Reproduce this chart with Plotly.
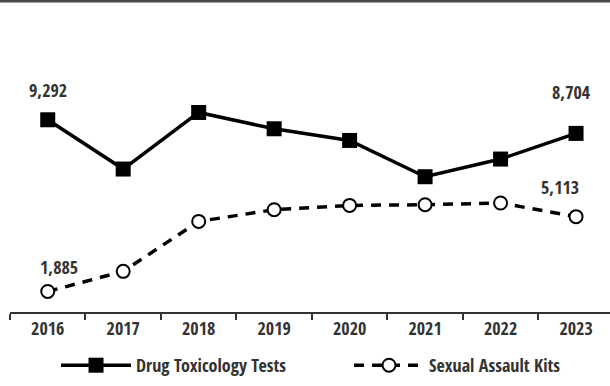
import plotly.graph_objects as go

years = ["2016", "2017", "2018", "2019", "2020", "2021", "2022", "2023"]
drug_tox = [9292, 7167, 9607, 8904, 8400, 6835, 7598, 8704]
sexual_assault = [1885, 2754, 4909, 5413, 5598, 5628, 5702, 5113]

FONT = "Open Sans Condensed"
TXT = "#333333"

fig = go.Figure()
fig.add_trace(go.Scatter(
    x=years, y=drug_tox, name="Drug Toxicology Tests", mode="lines+markers",
    line=dict(color="black", width=3.5),
    marker=dict(symbol="square", size=15, color="black"),
    legendwidth=208,
))
fig.add_trace(go.Scatter(
    x=years, y=sexual_assault, name="Sexual Assault Kits", mode="lines+markers",
    line=dict(color="black", width=3.5, dash="10px,8px"),
    marker=dict(symbol="circle", size=13, color="white", line=dict(color="black", width=2)),
    legendwidth=140,
))

def lab(i, y, xs, ys):
    fig.add_annotation(x=i, y=y, xref="x", yref="y", text=f"{y:,}", showarrow=False,
                       xshift=xs, yshift=ys,
                       font=dict(family=FONT, size=18, color=TXT, weight=500))

last = len(years) - 1
lab(0, drug_tox[0], 0, 30)
lab(last, drug_tox[last], -5, 41)
lab(last, sexual_assault[last], -16, 30)
lab(0, sexual_assault[0], 11, 24)

top_y = (312 - 1.25) / 255
fig.add_shape(type="line", xref="paper", yref="paper", x0=-0.02, x1=1.01,
              y0=top_y, y1=top_y, line=dict(color="#4a4a4a", width=2.5), layer="above")

fig.update_layout(
    width=610, height=386,
    margin=dict(l=10, r=0, t=57, b=74),
    paper_bgcolor="white", plot_bgcolor="white",
    showlegend=True,
    legend=dict(orientation="h", x=0.0767, xanchor="left", y=(312 - 384) / 255, yanchor="bottom",
                font=dict(family=FONT, size=18, color=TXT, weight=500), itemwidth=70,
                entrywidthmode="pixels", traceorder="normal"),
    xaxis=dict(type="category", range=[-0.5, 7.45], showline=True, linecolor="#333333",
               linewidth=1.5, ticks="outside", ticklen=6, tickcolor="#333333", tickwidth=1.5,
               tickson="boundaries", showgrid=False, zeroline=False,
               tickfont=dict(family=FONT, size=18, color=TXT, weight="bold")),
    yaxis=dict(range=[1000, 12000], visible=False, showgrid=False, zeroline=False),
)

fig.write_html("out.html", config={"displayModeBar": False},
               post_script="document.body.style.margin='0';")
